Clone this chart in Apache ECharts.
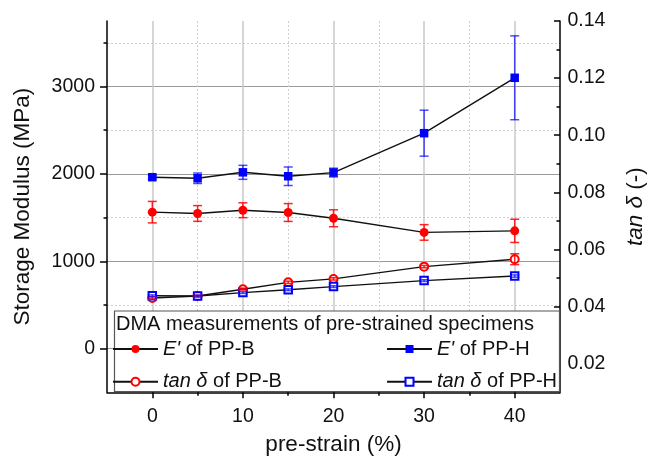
<!DOCTYPE html>
<html>
<head>
<meta charset="utf-8">
<script src="https://cdn.jsdelivr.net/npm/echarts@6/dist/echarts.min.js"></script>
<style>
  html, body { margin: 0; padding: 0; background: #fff; }
  #chart { width: 655px; height: 459px; }
</style>
</head>
<body>
<div id="chart"></div>
<script>
// Pre-strain levels (%)
const strain = [0, 5, 10, 15, 20, 30, 40];

// Storage modulus E' (MPa) with standard deviations
const eModB = [1562, 1547, 1584, 1558, 1492, 1330, 1348];
const eModBErr = [123, 90, 85, 102, 97, 89, 133];
const eModH = [1962, 1950, 2018, 1973, 2015, 2466, 3100];
const eModHErr = [20, 60, 80, 106, 50, 263, 480];

// Loss factor tan δ with standard deviations
const tanB = [0.0430, 0.0437, 0.0461, 0.0485, 0.0497, 0.0540, 0.0566];
const tanBErr = [0.0004, 0.0003, 0.0003, 0.0004, 0.0004, 0.0004, 0.0019];
const tanH = [0.0438, 0.0437, 0.0449, 0.0459, 0.0470, 0.0491, 0.0507];
const tanHErr = [0.0003, 0.0003, 0.0003, 0.0003, 0.0003, 0.0003, 0.0004];

// Axis tick values
const xTicks = [0, 10, 20, 30, 40];
const xMinorTicks = [5, 15, 25, 35];
const leftTicks = [0, 1000, 2000, 3000];
const leftMinorTicks = [500, 1500, 2500, 3500];
const rightTicks = [0.02, 0.04, 0.06, 0.08, 0.10, 0.12, 0.14];
const rightMinorTicks = [0.03, 0.05, 0.07, 0.09, 0.11, 0.13];

const FONT = '"Liberation Sans", Arial, sans-serif';
const RED = '#ff0000';
const BLUE = '#0000ff';

const names = {
  eB: "E' of PP-B",
  eH: "E' of PP-H",
  tB: 'tan δ of PP-B',
  tH: 'tan δ of PP-H'
};

function pairs(vals) {
  return strain.map((x, i) => [x, vals[i]]);
}
function ranges(vals, errs) {
  return strain.map((x, i) => [x, vals[i] - errs[i], vals[i] + errs[i]]);
}

function errorBars(color) {
  return function (params, api) {
    const x = api.value(0);
    const lo = api.coord([x, api.value(1)]);
    const hi = api.coord([x, api.value(2)]);
    const w = 4.5;
    const style = { stroke: color, lineWidth: 1.5, fill: null };
    return {
      type: 'group',
      children: [
        { type: 'line', shape: { x1: lo[0], y1: lo[1], x2: hi[0], y2: hi[1] }, style: style },
        { type: 'line', shape: { x1: lo[0] - w, y1: lo[1], x2: lo[0] + w, y2: lo[1] }, style: style },
        { type: 'line', shape: { x1: hi[0] - w, y1: hi[1], x2: hi[0] + w, y2: hi[1] }, style: style }
      ]
    };
  };
}

function lineSeries(name, data, yIdx, symbol, size, color, empty) {
  return {
    name: name,
    type: 'line',
    xAxisIndex: 0,
    yAxisIndex: yIdx,
    data: data,
    symbol: symbol,
    symbolSize: size,
    showAllSymbol: true,
    lineStyle: { color: '#111', width: 1.4 },
    itemStyle: empty
      ? { color: color, borderColor: color, borderWidth: 2 }
      : { color: color, borderWidth: 0 },
    emphasis: { disabled: true },
    z: 3
  };
}

function errSeries(data, yIdx, color) {
  return {
    type: 'custom',
    xAxisIndex: 0,
    yAxisIndex: yIdx,
    data: data,
    encode: { x: 0, y: [1, 2] },
    renderItem: errorBars(color),
    silent: true,
    z: 4
  };
}

const legendText = {
  fontSize: 20,
  fontFamily: FONT,
  color: '#111',
  lineHeight: 20,
  rich: {
    it: { fontSize: 20, fontFamily: FONT, fontStyle: 'italic', color: '#111' },
    n: { fontSize: 20, fontFamily: FONT, color: '#111' }
  }
};
function legendFormatter(name) {
  if (name.indexOf("E'") === 0) return "{it|E'}{n| " + name.slice(3) + '}';
  return '{it|tan δ}{n| ' + name.slice(6) + '}';
}

const chart = echarts.init(document.getElementById('chart'), null, { renderer: 'canvas' });

chart.setOption({
  animation: false,
  backgroundColor: '#fff',
  grid: {
    left: 107, right: 95, top: 21, bottom: 66.7,
    containLabel: false,
    outerBoundsMode: 'none'
  },
  xAxis: [
    {
      type: 'value', min: -5, max: 45, position: 'bottom',
      name: 'pre-strain (%)', nameLocation: 'middle', nameGap: 41,
      nameTextStyle: { fontSize: 22.5, fontFamily: FONT, color: '#111' },
      axisLine: { show: true, onZero: false, lineStyle: { color: '#000', width: 1.5 } },
      axisTick: { show: true, customValues: xTicks, length: 6, lineStyle: { color: '#000', width: 1.5 } },
      axisLabel: {
        customValues: xTicks, fontSize: 19.5, fontFamily: FONT, color: '#111', margin: 14,
        formatter: v => String(v)
      },
      splitLine: { show: true, lineStyle: { color: '#c8c8c8', width: 1.5 } }
    },
    {
      type: 'value', min: -5, max: 45, position: 'bottom',
      axisLine: { show: false, onZero: false },
      axisTick: { show: true, customValues: xMinorTicks, length: 3.5, lineStyle: { color: '#000', width: 1.5 } },
      axisLabel: { show: false },
      splitLine: { show: true, lineStyle: { color: '#d0d0d0', width: 1, type: [2, 2] } }
    }
  ],
  yAxis: [
    {
      type: 'value', min: -500, max: 3750, position: 'left',
      name: 'Storage Modulus (MPa)', nameLocation: 'middle', nameGap: 73, nameRotate: 90,
      nameMoveOverlap: false,
      nameTextStyle: { fontSize: 22.5, fontFamily: FONT, color: '#111' },
      axisLine: { show: true, onZero: false, lineStyle: { color: '#000', width: 1.5 } },
      axisTick: { show: true, customValues: leftTicks, length: 7, lineStyle: { color: '#000', width: 1.5 } },
      axisLabel: {
        customValues: leftTicks, fontSize: 19.5, fontFamily: FONT, color: '#111', margin: 12,
        formatter: v => String(v)
      },
      splitLine: { show: true, lineStyle: { color: '#9a9a9a', width: 1 } }
    },
    {
      type: 'value', min: 0.01, max: 0.14, position: 'right',
      name: '{it|tan δ}{n| (-)}', nameLocation: 'middle', nameGap: 64, nameRotate: 90,
      nameMoveOverlap: false,
      nameTextStyle: {
        fontSize: 22.5, fontFamily: FONT, color: '#111',
        rich: {
          it: { fontSize: 22.5, fontFamily: FONT, fontStyle: 'italic', color: '#111' },
          n: { fontSize: 22.5, fontFamily: FONT, color: '#111' }
        }
      },
      axisLine: { show: true, onZero: false, lineStyle: { color: '#000', width: 1.5 } },
      axisTick: { show: true, inside: true, customValues: rightTicks, length: 6, lineStyle: { color: '#000', width: 1.5 } },
      axisLabel: {
        customValues: rightTicks, fontSize: 19.5, fontFamily: FONT, color: '#111', margin: 7.5,
        formatter: v => v.toFixed(2)
      },
      splitLine: { show: false }
    },
    {
      type: 'value', min: -500, max: 3750, position: 'left',
      axisLine: { show: false, onZero: false },
      axisTick: { show: true, customValues: leftMinorTicks, length: 3.5, lineStyle: { color: '#000', width: 1.5 } },
      axisLabel: { show: false },
      splitLine: { show: true, lineStyle: { color: '#d0d0d0', width: 1, type: [2, 2] } }
    },
    {
      type: 'value', min: 0.01, max: 0.14, position: 'right',
      axisLine: { show: false, onZero: false },
      axisTick: { show: true, inside: true, customValues: rightMinorTicks, length: 3.5, lineStyle: { color: '#000', width: 1.5 } },
      axisLabel: { show: false },
      splitLine: { show: false }
    }
  ],
  legend: [
    {
      data: [names.eB, names.tB],
      orient: 'vertical', left: 112, top: 339,
      itemWidth: 45, itemHeight: 10, itemGap: 12.7,
      selectedMode: false, padding: 0, z: 6,
      formatter: legendFormatter, textStyle: legendText
    },
    {
      data: [names.eH, names.tH],
      orient: 'vertical', left: 386, top: 339,
      itemWidth: 45, itemHeight: 10, itemGap: 12.7,
      selectedMode: false, padding: 0, z: 6,
      formatter: legendFormatter, textStyle: legendText
    }
  ],
  graphic: [
    {
      type: 'rect', z: 5,
      shape: { x: 114.5, y: 311, width: 445, height: 80.5 },
      style: { fill: '#fff', stroke: '#555', lineWidth: 1.2 }
    },
    {
      type: 'text', z: 6, x: 116, y: 324,
      style: {
        text: 'DMA measurements of pre-strained specimens',
        fontSize: 20, fontFamily: FONT, fill: '#111',
        verticalAlign: 'middle', align: 'left'
      }
    }
  ],
  series: [
    lineSeries(names.eB, pairs(eModB), 0, 'circle', 9, RED, false),
    lineSeries(names.eH, pairs(eModH), 0, 'rect', 8.5, BLUE, false),
    lineSeries(names.tB, pairs(tanB), 1, 'emptyCircle', 8, RED, true),
    lineSeries(names.tH, pairs(tanH), 1, 'emptyRect', 7.5, BLUE, true),
    errSeries(ranges(eModB, eModBErr), 0, 'rgba(255,0,0,0.85)'),
    errSeries(ranges(eModH, eModHErr), 0, 'rgba(0,0,255,0.7)'),
    errSeries(ranges(tanB, tanBErr), 1, 'rgba(255,0,0,0.85)'),
    errSeries(ranges(tanH, tanHErr), 1, 'rgba(0,0,255,0.7)')
  ]
});
</script>
</body>
</html>
